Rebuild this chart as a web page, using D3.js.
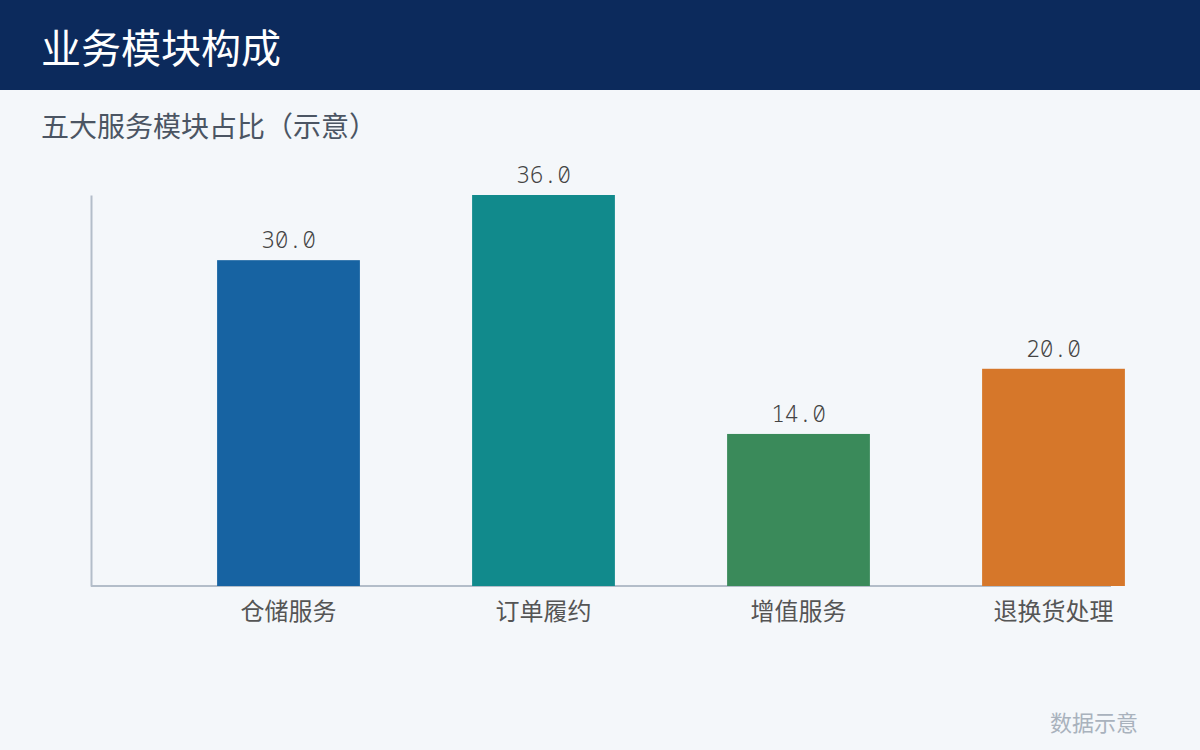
<!DOCTYPE html>
<html><head><meta charset="utf-8">
<script src="https://cdn.jsdelivr.net/npm/d3@7"></script>
<style>
html,body{margin:0;padding:0;background:#f4f7fa;}
svg{display:block;}
</style></head>
<body><svg id="c" width="1200" height="750"></svg>
<script>
const title = "业务模块构成";
const subtitle = "五大服务模块占比（示意）";
const footer = "数据示意";
const categories = ["仓储服务", "订单履约", "增值服务", "退换货处理"];
const values = [30.0, 36.0, 14.0, 20.0];
const colors = ["#1763a2", "#118a8c", "#3a8a5a", "#d6772a"];

const cjk = '"Noto Sans CJK SC", "Noto Sans", sans-serif';
const mono = '"Noto Sans Mono", "Noto Sans Mono CJK SC", monospace';

const svg = d3.select("#c");
svg.append("rect").attr("width", 1200).attr("height", 750).attr("fill", "#f4f7fa");
svg.append("rect").attr("width", 1200).attr("height", 90).attr("fill", "#0c2a5c");
svg.append("text").attr("x", 41).attr("y", 46).attr("dominant-baseline", "central")
  .attr("fill", "#fff").style("font-family", cjk).style("font-size", "40px").text(title);
svg.append("text").attr("x", 41).attr("y", 125).attr("dominant-baseline", "central")
  .attr("fill", "#4b5563").style("font-family", cjk).style("font-size", "28px").text(subtitle);

const plotLeft = 91, plotRight = 1111, baseY = 586, topY = 195;
const x = d3.scaleBand().domain(categories).range([161, 1181]).paddingInner(0.44).paddingOuter(0.22);
const y = d3.scaleLinear().domain([0, d3.max(values)]).range([baseY, topY]);

const data = categories.map((c, i) => ({c, v: values[i], col: colors[i]}));

const yAxis = svg.append("g").attr("transform", `translate(${plotLeft},0)`)
  .call(d3.axisLeft(y).ticks(0).tickSize(0).tickSizeOuter(0));
yAxis.select(".domain").attr("stroke", "#b3bdc9").attr("stroke-width", 2);
yAxis.selectAll(".tick").remove();

svg.append("line").attr("x1", plotLeft).attr("x2", plotRight).attr("y1", baseY).attr("y2", baseY)
  .attr("stroke", "#b3bdc9").attr("stroke-width", 2);

svg.selectAll("rect.bar").data(data).join("rect").attr("class", "bar")
  .attr("x", d => x(d.c)).attr("width", x.bandwidth())
  .attr("y", d => y(d.v)).attr("height", d => baseY - y(d.v))
  .attr("fill", d => d.col);

svg.selectAll("text.val").data(data).join("text").attr("class", "val")
  .attr("x", d => x(d.c) + x.bandwidth() / 2).attr("y", d => y(d.v) - 21)
  .attr("text-anchor", "middle").attr("dominant-baseline", "central")
  .attr("fill", "#444").style("font-family", mono).style("font-size", "23px").style("font-weight", 350)
  .text(d => d.v.toFixed(1));

svg.selectAll("text.cat").data(data).join("text").attr("class", "cat")
  .attr("x", d => x(d.c) + x.bandwidth() / 2).attr("y", 609)
  .attr("text-anchor", "middle").attr("dominant-baseline", "central")
  .attr("fill", "#555").style("font-family", cjk).style("font-size", "24px")
  .text(d => d.c);

svg.append("text").attr("x", 1138).attr("y", 721).attr("text-anchor", "end").attr("dominant-baseline", "central")
  .attr("fill", "#a9b2bd").style("font-family", cjk).style("font-size", "22px").text(footer);
</script></body></html>
